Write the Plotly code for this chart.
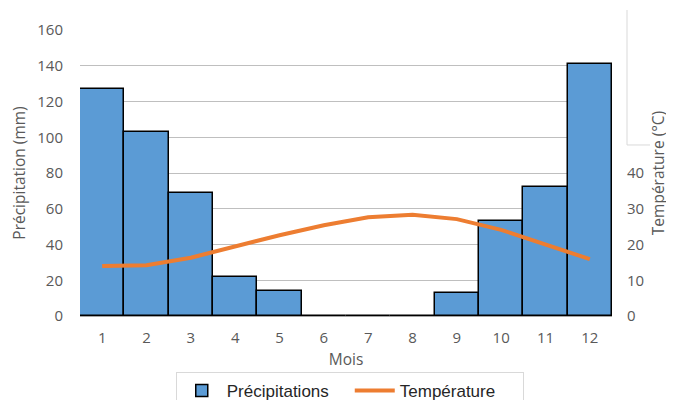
import plotly.graph_objects as go

mois = ["1", "2", "3", "4", "5", "6", "7", "8", "9", "10", "11", "12"]
precipitations = [127, 103, 69, 22, 14, 0, 0, 0, 13, 53, 72, 141]
temperature = [14.0, 14.2, 16.3, 19.4, 22.6, 25.4, 27.6, 28.3, 27.1, 24.1, 19.9, 15.9]
left_ticks = [0, 20, 40, 60, 80, 100, 120, 140, 160]
right_ticks = [0, 10, 20, 30, 40]

grey = "#595959"
tick_font = dict(family="Open Sans, sans-serif", size=15, color=grey)
title_font = dict(family="Open Sans, sans-serif", size=15.5, color=grey)

fig = go.Figure()
fig.add_trace(go.Bar(
    x=mois, y=precipitations, name="Précipitations",
    marker=dict(color="#5B9BD5", line=dict(color="#000000", width=1.5)),
    yaxis="y",
))
fig.add_trace(go.Scatter(
    x=mois, y=temperature, name="Température", mode="lines",
    line=dict(color="#ED7D31", width=4),
    yaxis="y2",
))

# the page body adds an 8px offset, so the figure is sized to fit the window
fig.update_layout(
    width=666, height=392,
    margin=dict(l=72, r=62, t=22, b=84, autoexpand=False),
    paper_bgcolor="white", plot_bgcolor="white",
    font=dict(family="Liberation Sans, Arial, sans-serif", size=14, color=grey),
    bargap=0,
    showlegend=True,
    legend=dict(
        orientation="h", x=0.18, xanchor="left", y=-0.196, yanchor="top",
        bordercolor="#D9D9D9", borderwidth=1,
        font=dict(family="Liberation Sans, Arial, sans-serif", size=17, color="#262626"),
        itemwidth=40, entrywidth=118,
    ),
    xaxis=dict(
        type="category", showgrid=False, showline=True, linecolor="#A6A6A6",
        linewidth=1, ticks="", tickfont=tick_font, ticklabelstandoff=8,
        title=dict(text="Mois", font=title_font, standoff=8),
    ),
    yaxis=dict(
        range=[0, 160], tickvals=left_ticks, showgrid=True, gridcolor="#BFBFBF",
        gridwidth=1, zeroline=False, showline=False, ticks="",
        tickfont=tick_font, ticklabelstandoff=16,
        title=dict(text="Précipitation (mm)", font=title_font, standoff=8),
    ),
    yaxis2=dict(
        overlaying="y", side="right", range=[0, 80], tickvals=right_ticks,
        showgrid=False, zeroline=False, showline=False, ticks="",
        tickfont=tick_font, ticklabelstandoff=14,
        title=dict(text="Température (°C)", font=title_font, standoff=9),
    ),
)

# faint leftover box at top-right of the secondary axis
fig.add_shape(type="line", xref="paper", yref="paper",
              x0=1.0282, x1=1.0282, y0=1.07, y1=0.598,
              line=dict(color="#D9D9D9", width=1))
fig.add_shape(type="line", xref="paper", yref="paper",
              x0=1.0282, x1=1.0714, y0=0.598, y1=0.598,
              line=dict(color="#D9D9D9", width=1))

fig.write_html("out.html")
